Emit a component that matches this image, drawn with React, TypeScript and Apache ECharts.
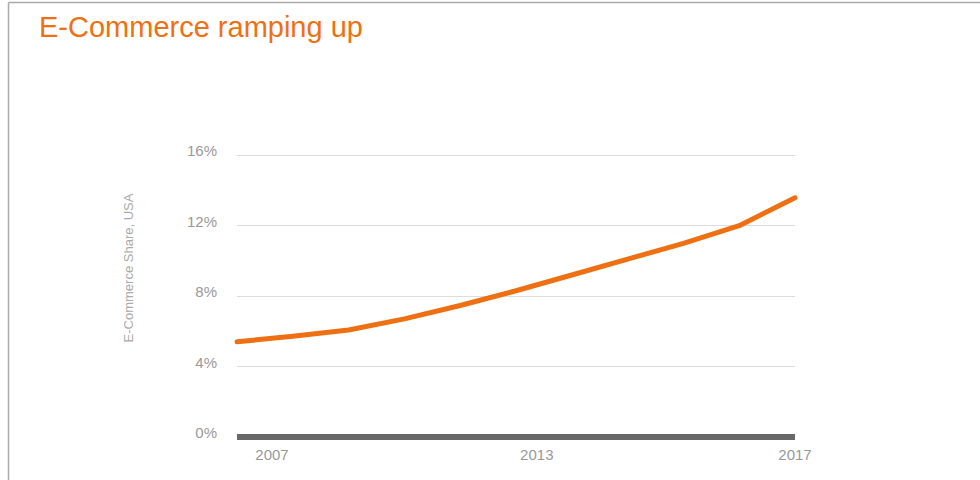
import React, { useEffect, useRef } from "react";
import * as echarts from "echarts";

const title = "E-Commerce ramping up";
const yAxisTitle = "E-Commerce Share, USA";
const years = [2007, 2008, 2009, 2010, 2011, 2012, 2013, 2014, 2015, 2016, 2017];
const sharePct = [5.4, 5.72, 6.07, 6.7, 7.46, 8.3, 9.19, 10.09, 10.99, 11.99, 13.57];
const xTickLabels = [2007, 2013, 2017];
const yTicks = { min: 0, max: 16, interval: 4 };

const ORANGE = "#EF7012";
const FONT = "Liberation Sans, Arial, sans-serif";
const LABEL_GRAY = "#999999";

export default function App() {
  const ref = useRef<HTMLDivElement>(null);
  useEffect(() => {
    if (!ref.current) return;
    const chart = echarts.init(ref.current, undefined, { renderer: "svg" });
    chart.setOption({
      animation: false,
      backgroundColor: "#ffffff",
      title: {
        text: title,
        left: 34,
        top: 7,
        textStyle: {
          fontFamily: FONT,
          fontSize: 29,
          fontWeight: "normal",
          color: ORANGE,
        },
      },
      graphic: [
        {
          type: "line",
          shape: { x1: 8.5, y1: 2.5, x2: 8.5, y2: 480 },
          style: { stroke: "#aaaaaa", lineWidth: 1.5 },
        },
        {
          type: "line",
          shape: { x1: 8.5, y1: 2.5, x2: 980, y2: 2.5 },
          style: { stroke: "#aaaaaa", lineWidth: 1.5 },
        },
        {
          type: "text",
          x: 128,
          y: 268,
          rotation: Math.PI / 2,
          style: {
            text: yAxisTitle,
            fill: "#aaaaaa",
            fontSize: 13,
            fontFamily: FONT,
            align: "center",
            verticalAlign: "middle",
          },
        },
      ],
      grid: { left: 237, right: 185, top: 155, bottom: 43, containLabel: false },
      xAxis: {
        type: "value",
        min: years[0],
        max: years[years.length - 1],
        splitLine: { show: false },
        axisTick: { show: false },
        axisLine: { show: true, lineStyle: { color: "#686868", width: 6, cap: "butt" } },
        axisLabel: {
          customValues: xTickLabels,
          margin: 10,
          color: LABEL_GRAY,
          fontSize: 15,
          fontFamily: FONT,
          formatter: (v: number) => {
            if (v === xTickLabels[0]) return "{l|" + v + "}";
            if (v === xTickLabels[1]) return "{r|" + v + "}";
            return "{n|" + v + "}";
          },
          rich: {
            l: { padding: [0, 0, 0, 70], color: LABEL_GRAY, fontSize: 15, fontFamily: FONT },
            r: { padding: [0, 70, 0, 0], color: LABEL_GRAY, fontSize: 15, fontFamily: FONT },
            n: { color: LABEL_GRAY, fontSize: 15, fontFamily: FONT },
          },
        },
      },
      yAxis: {
        type: "value",
        min: yTicks.min,
        max: yTicks.max,
        interval: yTicks.interval,
        axisLine: { show: false },
        axisTick: { show: false },
        splitLine: { show: true, lineStyle: { color: "#dddddd", width: 1 } },
        axisLabel: {
          formatter: (v: number) => "{a|" + v + "%}",
          margin: 20,
          color: LABEL_GRAY,
          fontSize: 15,
          fontFamily: FONT,
          rich: {
            a: { padding: [0, 0, 9, 0], color: LABEL_GRAY, fontSize: 15, fontFamily: FONT },
          },
        },
      },
      series: [
        {
          type: "line",
          data: years.map((y, i) => [y, sharePct[i]]),
          showSymbol: false,
          symbol: "none",
          lineStyle: { color: ORANGE, width: 5, cap: "round", join: "round" },
          z: 3,
        },
      ],
    });
    return () => chart.dispose();
  }, []);
  return (
    <div style={{ position: "fixed", left: 0, top: 0, width: 980, height: 480 }}>
      <div ref={ref} style={{ width: 980, height: 480 }} />
    </div>
  );
}
